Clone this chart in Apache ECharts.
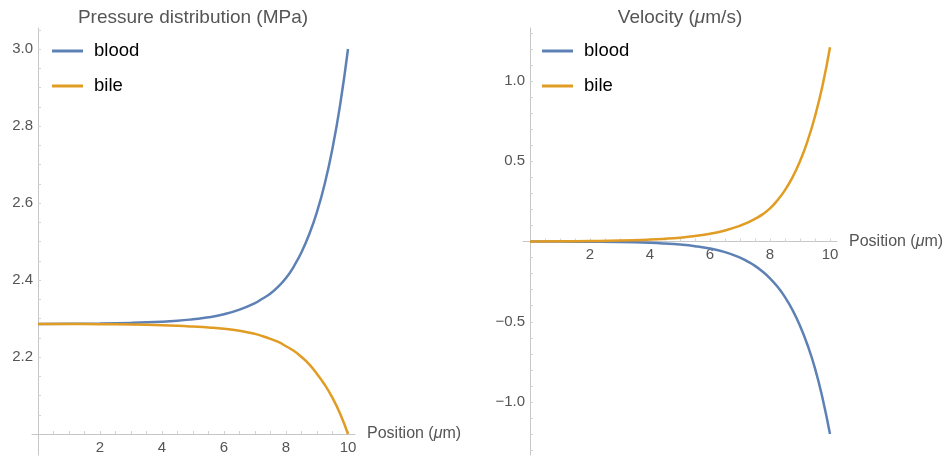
<!DOCTYPE html>
<html>
<head>
<meta charset="utf-8">
<script src="https://cdn.jsdelivr.net/npm/echarts@6/dist/echarts.min.js"></script>
<style>
html,body{margin:0;padding:0;background:#fff;}
#chart{width:952px;height:457px;}
</style>
</head>
<body>
<div id="chart"></div>
<script>
// ---- data ----
var positions     = [0, 1, 2, 3, 4, 4.5, 5, 5.5, 6, 6.5, 7, 7.25, 7.5, 7.75, 8, 8.25, 8.5, 8.75, 9, 9.25, 9.5, 9.75, 10];
var pressureBlood = [2.286, 2.2865, 2.287, 2.2886, 2.2915, 2.294, 2.298, 2.303, 2.311, 2.323, 2.340, 2.352, 2.365, 2.383, 2.405, 2.435, 2.472, 2.519, 2.577, 2.65, 2.742, 2.857, 3.0];
var pressureBile  = [2.286, 2.2856, 2.2851, 2.2842, 2.2824, 2.281, 2.279, 2.2766, 2.2733, 2.268, 2.260, 2.254, 2.247, 2.239, 2.228, 2.216, 2.200, 2.181, 2.156, 2.128, 2.094, 2.052, 2.0];
var velocityBlood = [0, -0.0007, -0.0016, -0.0036, -0.0083, -0.0126, -0.019, -0.029, -0.044, -0.066, -0.1, -0.124, -0.152, -0.187, -0.229, -0.282, -0.347, -0.427, -0.525, -0.645, -0.79, -0.975, -1.2];
var velocityBile  = [0, 0.0015, 0.003, 0.006, 0.012, 0.017, 0.024, 0.034, 0.048, 0.069, 0.098, 0.118, 0.141, 0.169, 0.206, 0.257, 0.32, 0.40, 0.50, 0.625, 0.78, 0.97, 1.21];
var seriesNames = ['blood', 'bile'];
var xTickLabels = [2, 4, 6, 8, 10];
var pressureTickLabels = [2.2, 2.4, 2.6, 2.8, 3.0];
var velocityTickLabels = [-1.0, -0.5, 0.5, 1.0];

function zip(xs, ys) { return xs.map(function (x, i) { return [x, ys[i]]; }); }
function steps(a, b, s, skipZero) {
  var out = [];
  var n = Math.round((b - a) / s);
  for (var i = 0; i <= n; i++) {
    var v = Math.round((a + i * s) * 1000) / 1000;
    if (skipZero && Math.abs(v) < 1e-9) continue;
    out.push(v);
  }
  return out;
}

var FONT = '"Liberation Sans", Arial, sans-serif';
var AXIS_COLOR = '#c6c6c6';
var LABEL_COLOR = '#555555';
var BLUE = '#5e81b5';
var ORANGE = '#e19c24';

var chart = echarts.init(document.getElementById('chart'), null, {renderer: 'canvas'});

function xAxisCfg(gridIndex, min, max, offset) {
  return {
    type: 'value', gridIndex: gridIndex, min: min, max: max, offset: offset, position: 'bottom',
    splitLine: {show: false},
    axisLine: {show: true, onZero: false, lineStyle: {color: AXIS_COLOR, width: 1}},
    axisTick: {show: true, inside: true, length: 3, lineStyle: {color: '#d4d4d4'}, customValues: steps(0.5, 10, 0.5, false)},
    axisLabel: {show: true, customValues: xTickLabels, margin: 6, color: LABEL_COLOR, fontSize: 15, fontFamily: FONT,
      formatter: function (v) { return String(v); }},
    name: '{n|Position (}{i|μ}{n|m)}',
    nameLocation: 'end', nameGap: 12,
    nameTextStyle: {
      verticalAlign: 'middle',
      rich: {
        n: {color: LABEL_COLOR, fontSize: 16, fontFamily: FONT},
        i: {color: LABEL_COLOR, fontSize: 16, fontFamily: FONT, fontStyle: 'italic'}
      }
    }
  };
}

function yAxisCfg(gridIndex, min, max, offset, minorTicks, labels, fmt) {
  return {
    type: 'value', gridIndex: gridIndex, min: min, max: max, offset: offset, position: 'left',
    splitLine: {show: false},
    axisLine: {show: true, onZero: false, lineStyle: {color: AXIS_COLOR, width: 1}},
    axisTick: {show: true, inside: true, length: 3, lineStyle: {color: '#d4d4d4'}, customValues: minorTicks},
    axisLabel: {show: true, customValues: labels, margin: 5, color: LABEL_COLOR, fontSize: 15, fontFamily: FONT,
      formatter: fmt}
  };
}

function legendCfg(left) {
  return {
    data: seriesNames, orient: 'vertical', left: left, top: 36,
    icon: 'rect', itemWidth: 31, itemHeight: 3, itemGap: 15,
    textStyle: {color: '#000', fontSize: 18.5, fontFamily: FONT, lineHeight: 20, padding: [0, 0, 0, 6]}
  };
}

var option = {
  backgroundColor: '#ffffff',
  animation: false,
  title: [
    {
      text: '{n|Pressure distribution (MPa)}',
      left: 188, top: 3, textAlign: 'center',
      textStyle: {rich: {n: {color: LABEL_COLOR, fontSize: 19, fontWeight: 'normal', fontFamily: FONT}}}
    },
    {
      text: '{n|Velocity (}{i|μ}{n|m/s)}',
      left: 675, top: 3, textAlign: 'center',
      textStyle: {rich: {
        n: {color: LABEL_COLOR, fontSize: 19, fontWeight: 'normal', fontFamily: FONT},
        i: {color: LABEL_COLOR, fontSize: 19, fontWeight: 'normal', fontFamily: FONT, fontStyle: 'italic'}
      }}
    }
  ],
  legend: [legendCfg(47), legendCfg(537)],
  grid: [
    {left: 32, top: 28, width: 323, height: 427, outerBoundsMode: 'none', containLabel: false},
    {left: 523, top: 28, width: 314, height: 427, outerBoundsMode: 'none', containLabel: false}
  ],
  xAxis: [
    xAxisCfg(0, -6 / 31, 10 + 7 / 31, -21),
    xAxisCfg(1, -7 / 30, 10 + 7 / 30, -213.5)
  ],
  yAxis: [
    yAxisCfg(0, 2 - 21 / 385, 2 - 21 / 385 + 427 / 385, -6, steps(2.05, 3.05, 0.05, false), pressureTickLabels,
      function (v) { return v.toFixed(1); }),
    yAxisCfg(1, -213.5 / 160.5, 213.5 / 160.5, -7, steps(-1.3, 1.3, 0.1, true), velocityTickLabels,
      function (v) { return v.toFixed(1).replace('-', '\u2212'); })
  ],
  series: [
    {name: 'blood', type: 'line', xAxisIndex: 0, yAxisIndex: 0, data: zip(positions, pressureBlood),
      showSymbol: false, symbol: 'none', smooth: 0.5, lineStyle: {color: BLUE, width: 2.5}, itemStyle: {color: BLUE}, z: 3},
    {name: 'bile', type: 'line', xAxisIndex: 0, yAxisIndex: 0, data: zip(positions, pressureBile),
      showSymbol: false, symbol: 'none', smooth: 0.5, lineStyle: {color: ORANGE, width: 2.5}, itemStyle: {color: ORANGE}, z: 4},
    {name: 'blood', type: 'line', xAxisIndex: 1, yAxisIndex: 1, data: zip(positions, velocityBlood),
      showSymbol: false, symbol: 'none', smooth: 0.5, lineStyle: {color: BLUE, width: 2.5}, itemStyle: {color: BLUE}, z: 3},
    {name: 'bile', type: 'line', xAxisIndex: 1, yAxisIndex: 1, data: zip(positions, velocityBile),
      showSymbol: false, symbol: 'none', smooth: 0.5, lineStyle: {color: ORANGE, width: 2.5}, itemStyle: {color: ORANGE}, z: 4}
  ]
};
chart.setOption(option);
</script>
</body>
</html>
